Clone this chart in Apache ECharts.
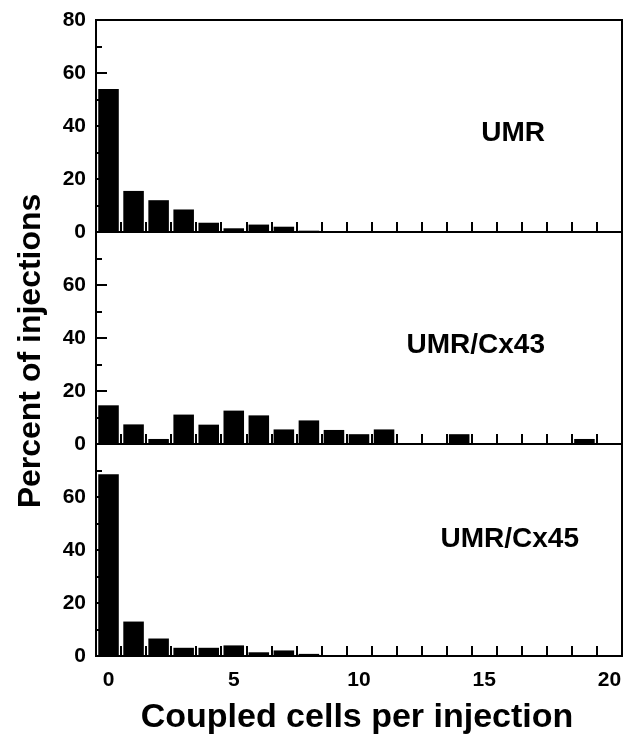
<!DOCTYPE html>
<html>
<head>
<meta charset="utf-8">
<script src="https://cdn.jsdelivr.net/npm/echarts@6/dist/echarts.min.js"></script>
<style>html,body{margin:0;padding:0;background:#fff;}#c{width:635px;height:736px;}</style>
</head>
<body>
<div id="c"></div>
<script>
var categories = ['0','1','2','3','4','5','6','7','8','9','10','11','12','13','14','15','16','17','18','19','20'];
var umr   = [54, 15.5, 12, 8.5, 3.5, 1.4, 2.8, 2.0, 0.5, 0, 0, 0, 0, 0, 0, 0, 0, 0, 0, 0, 0];
var cx43  = [14.6, 7.4, 1.9, 11.1, 7.3, 12.6, 10.8, 5.5, 8.9, 5.3, 3.7, 5.5, 0, 0, 3.7, 0, 0, 0, 0, 1.9, 0];
var cx45  = [68.6, 13.0, 6.6, 3.1, 3.1, 4.0, 1.4, 2.1, 0.8, 0, 0, 0, 0, 0, 0, 0, 0, 0, 0, 0, 0];
var panelNames = ['UMR', 'UMR/Cx43', 'UMR/Cx45'];
var yTicks = [0, 20, 40, 60, 80];
var xTickLabels = ['0', '5', '10', '15', '20'];
var xTitle = 'Coupled cells per injection';
var yTitle = 'Percent of injections';

var FONT = '"Liberation Sans", Arial, Helvetica, sans-serif';
var series = [umr, cx43, cx45];
var tops = [20, 232, 444];
var H = 212;

var grids = [], xAxes = [], yAxes = [], ser = [];
for (var i = 0; i < 3; i++) {
  grids.push({left: 96, right: 13, top: tops[i], height: H, show: true, borderColor: '#000', borderWidth: 2, backgroundColor: 'transparent'});
  xAxes.push({
    type: 'category', gridIndex: i, data: categories, boundaryGap: true,
    axisLine: {show: true, lineStyle: {color: '#000', width: 2}},
    axisTick: {show: true, inside: true, length: 10, interval: 0, lineStyle: {color: '#000', width: 2}},
    axisLabel: {
      show: i === 2, interval: 0, margin: 14, color: '#000', fontSize: 21, fontWeight: 'bold', fontFamily: FONT,
      formatter: function (v) { return xTickLabels.indexOf(v) >= 0 ? v : ''; }
    },
    splitLine: {show: false}
  });
  (function (idx) {
    yAxes.push({
      type: 'value', gridIndex: idx, min: 0, max: 80, interval: 20,
      axisLine: {show: true, lineStyle: {color: '#000', width: 2}},
      axisTick: {show: true, inside: true, length: 11, lineStyle: {color: '#000', width: 2}},
      minorTick: {show: true, splitNumber: 2, length: 6, lineStyle: {color: '#000', width: 2}},
      splitLine: {show: false},
      axisLabel: {
        margin: 10, color: '#000', fontSize: 21, fontWeight: 'bold', fontFamily: FONT,
        formatter: function (v) {
          if (yTicks.indexOf(v) < 0) return '';
          if (idx > 0 && v === 80) return '';
          return String(v);
        }
      }
    });
  })(i);
  ser.push({type: 'bar', xAxisIndex: i, yAxisIndex: i, data: series[i], barWidth: '82%', itemStyle: {color: '#000'}, silent: true, animation: false});
}

var labelPos = [[545, 133], [545, 345], [579, 539]];
var graphics = [];
for (var k = 0; k < 3; k++) {
  graphics.push({type: 'text', x: labelPos[k][0], y: labelPos[k][1], style: {text: panelNames[k], textAlign: 'right', textVerticalAlign: 'middle', fill: '#000', font: 'bold 28px ' + FONT}});
}
graphics.push({type: 'text', x: 357, y: 718, style: {text: xTitle, textAlign: 'center', textVerticalAlign: 'middle', fill: '#000', font: 'bold 34px ' + FONT}});
graphics.push({type: 'text', x: 31, y: 351, rotation: Math.PI / 2, style: {text: yTitle, textAlign: 'center', textVerticalAlign: 'middle', fill: '#000', font: 'bold 32px ' + FONT}});

var chart = echarts.init(document.getElementById('c'), null, {renderer: 'canvas'});
chart.setOption({
  animation: false,
  backgroundColor: '#fff',
  grid: grids, xAxis: xAxes, yAxis: yAxes, series: ser,
  graphic: graphics
});
</script>
</body>
</html>
